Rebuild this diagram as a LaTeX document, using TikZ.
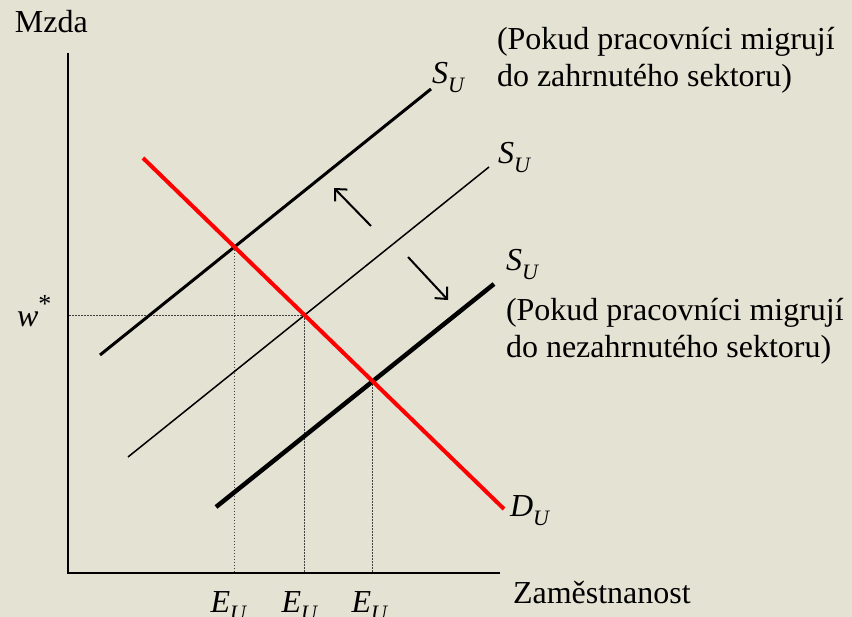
\documentclass[tikz,border=0pt]{standalone}
\usepackage{fontspec}
\setmainfont{Liberation Serif}
\usetikzlibrary{arrows.meta}
\definecolor{bg}{RGB}{228,226,211}
\definecolor{dred}{RGB}{255,0,0}
\newcommand{\SU}{\textit{S}\raisebox{-0.28em}{\fontsize{22}{22}\selectfont\textit{U}}}
\newcommand{\DU}{\textit{D}\raisebox{-0.28em}{\fontsize{22}{22}\selectfont\textit{U}}}
\newcommand{\EU}{\textit{E}\raisebox{-0.28em}{\fontsize{22}{22}\selectfont\textit{U}}}
\begin{document}
\begin{tikzpicture}[x=1pt,y=-1pt,
  every node/.style={inner sep=0pt,outer sep=0pt,font=\fontsize{32}{37}\selectfont},
  axis/.style={line width=2.5pt,black},
  supthin/.style={line width=1.5pt,black},
  supmid/.style={line width=3pt,black},
  supthick/.style={line width=4.5pt,black},
  demand/.style={line width=4pt,dred},
  guide/.style={line width=1pt,black!75,dash pattern=on 1.5pt off 1.5pt},
  shiftarrow/.style={line width=2pt,black,-{Straight Barb[length=9pt,width=17pt,line width=2pt]}},
  lbl/.style={anchor=base west,align=left}]
\fill[bg] (0,0) rectangle (852,617);
\useasboundingbox (0,0) rectangle (852,617);
% axes
\coordinate (O) at (68,573);
\coordinate (Ytop) at (68,53);
\coordinate (Xend) at (500,573);
\draw[axis] (Ytop) -- (O) -- (Xend);
% curves
\coordinate (s1a) at (100,355); \coordinate (s1b) at (431,89);
\coordinate (s2a) at (128,457); \coordinate (s2b) at (489,167);
\coordinate (s3a) at (216,507); \coordinate (s3b) at (494,284);
\coordinate (da) at (143,158); \coordinate (db) at (504,509);
\coordinate (i1) at (intersection of s1a--s1b and da--db);
\coordinate (i2) at (intersection of s2a--s2b and da--db);
\coordinate (i3) at (intersection of s3a--s3b and da--db);
% guides
\draw[guide] (i1) -- (i1 |- O);
\draw[guide] (i2) -- (i2 |- O);
\draw[guide] (i3) -- (i3 |- O);
\draw[guide] (i2) -- (i2 -| O);
\draw[supmid] (s1a) -- (s1b);
\draw[supthin] (s2a) -- (s2b);
\draw[supthick] (s3a) -- (s3b);
\draw[demand] (da) -- (db);
% shift arrows
\coordinate (a1s) at (371,226); \coordinate (a1e) at (334,188);
\coordinate (a2s) at (408,257); \coordinate (a2e) at (448,300);
\draw[shiftarrow] (a1s) -- (a1e);
\draw[shiftarrow] (a2s) -- (a2e);
% labels
\node[lbl] (mzda) at (15,33) {Mzda};
\node[lbl] (zam) at (513,603) {Zaměstnanost};
\node[lbl] (ws) at (17,327) {\textit{w}\raisebox{0.45em}{\fontsize{26}{26}\selectfont *}};
\node[lbl] (l1) at (432,84) {\SU};
\node[lbl] (l2) at (498,164) {\SU};
\node[lbl] (l3) at (506,271) {\SU};
\node[lbl] (ld) at (510,517) {\DU};
\node[anchor=base] (e1) at (229,612) {\EU};
\node[anchor=base] (e2) at (300,612) {\EU};
\node[anchor=base] (e3) at (370,612) {\EU};
\node[lbl] (t1) at (497,87) {(Pokud pracovníci migrují\\do zahrnutého sektoru)};
\node[lbl] (t2) at (506,358) {(Pokud pracovníci migrují\\do nezahrnutého sektoru)};
\end{tikzpicture}
\end{document}
